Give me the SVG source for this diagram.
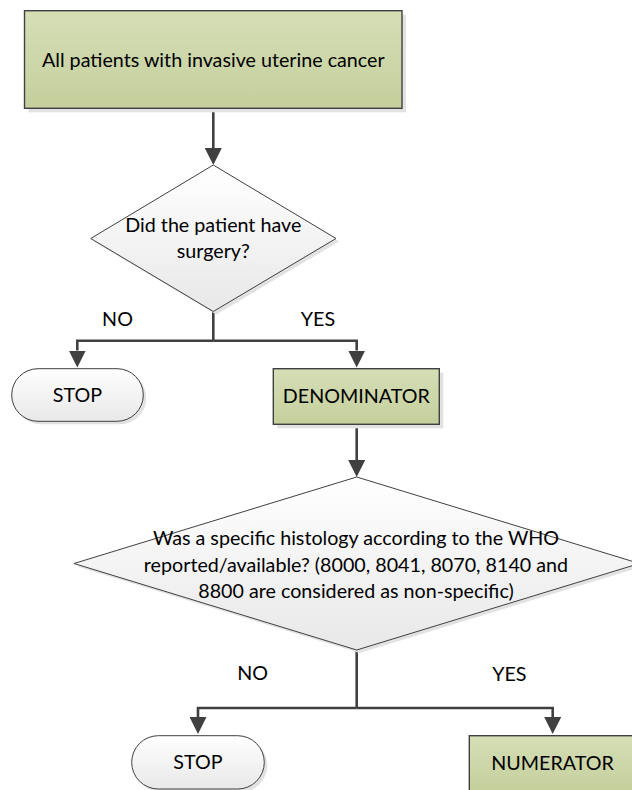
<svg xmlns="http://www.w3.org/2000/svg" width="632" height="790" viewBox="0 0 632 790">
  <style>
    .lbl { font-family: Lato, "Open Sans", sans-serif; font-size: 19.7px; fill: #000; text-anchor: middle; }
    .box { fill: url(#green); stroke: #404040; stroke-width: 1.4; }
    .dec { fill: url(#gray); stroke: #404040; stroke-width: 1; }
    .term { fill: url(#gray); stroke: #404040; stroke-width: 1; }
    .shadow { fill: #e2e2e2; stroke: none; }
    .conn { fill: none; stroke: #404040; stroke-width: 2.6; marker-end: url(#arrow); }
    .line { fill: none; stroke: #404040; stroke-width: 2.6; }
  </style>
  <defs>
    <linearGradient id="green" x1="0" y1="0" x2="0" y2="1">
      <stop offset="0" stop-color="#d6deb6"/>
      <stop offset="1" stop-color="#c4cf9c"/>
    </linearGradient>
    <linearGradient id="gray" x1="0" y1="0" x2="0" y2="1">
      <stop offset="0" stop-color="#ffffff"/>
      <stop offset="1" stop-color="#e8e8e8"/>
    </linearGradient>
    <marker id="arrow" markerUnits="userSpaceOnUse" markerWidth="17" markerHeight="17" refX="0" refY="8.5" orient="auto" viewBox="0 0 17 17">
      <path d="M0,0 L17,8.5 L0,17 Z" fill="#404040"/>
    </marker>
  </defs>

  <rect width="632" height="790" fill="#ffffff"/>

  <!-- connectors -->
  <g id="connectors">
    <path class="conn" d="M213.3,108.3 V148"/>
    <path class="line" d="M213.3,311.5 V340.7"/>
    <path class="conn" d="M213.3,340.7 H77.3 V350.5"/>
    <path class="conn" d="M213.3,340.7 H356.7 V350.5"/>
    <path class="conn" d="M356.7,424.3 V460"/>
    <path class="line" d="M356.7,650 V708"/>
    <path class="conn" d="M356.7,708 H198 V717"/>
    <path class="conn" d="M356.7,708 H552.7 V717"/>
  </g>

  <!-- start node -->
  <g id="start">
    <rect class="shadow" x="28.5" y="14.7" width="377.5" height="97.6"/>
    <rect class="box" x="24.5" y="10.7" width="377.5" height="97.6"/>
    <text class="lbl" x="213.3" y="66.7">All patients with invasive uterine cancer</text>
  </g>

  <!-- decision: surgery -->
  <g id="decision-surgery">
    <polygon class="shadow" points="216.3,168 339,241.5 216.3,314.5 93.7,241.5"/>
    <polygon class="dec" points="213.3,165 336,238.5 213.3,311.5 90.7,238.5"/>
    <text class="lbl" x="213.3" y="231.5">Did the patient have</text>
    <text class="lbl" x="213.3" y="258">surgery?</text>
  </g>

  <!-- branch labels -->
  <g id="labels-surgery">
    <text class="lbl" x="117.5" y="326">NO</text>
    <text class="lbl" x="318" y="326">YES</text>
  </g>

  <!-- stop (no surgery) -->
  <g id="stop-1">
    <rect class="shadow" x="14.7" y="371.7" width="131.6" height="52.6" rx="26.3"/>
    <rect class="term" x="11.7" y="368.7" width="131.6" height="52.6" rx="26.3"/>
    <text class="lbl" x="77.5" y="402">STOP</text>
  </g>

  <!-- denominator -->
  <g id="denominator">
    <rect class="shadow" x="277.3" y="372.7" width="166" height="55.6"/>
    <rect class="box" x="273.3" y="368.7" width="166" height="55.6"/>
    <text class="lbl" x="356.3" y="402.7">DENOMINATOR</text>
  </g>

  <!-- decision: histology -->
  <g id="decision-histology">
    <polygon class="shadow" points="359.7,480 642.4,566.5 359.7,653 77,566.5"/>
    <polygon class="dec" points="356.7,477 639.4,563.5 356.7,650 74,563.5"/>
    <text class="lbl" x="356" y="545">Was a specific histology according to the WHO</text>
    <text class="lbl" x="356" y="571.5">reported/available? (8000, 8041, 8070, 8140 and</text>
    <text class="lbl" x="356" y="598">8800 are considered as non-specific)</text>
  </g>

  <!-- branch labels -->
  <g id="labels-histology">
    <text class="lbl" x="252.7" y="680">NO</text>
    <text class="lbl" x="509.3" y="680.7">YES</text>
  </g>

  <!-- stop (no specific histology) -->
  <g id="stop-2">
    <rect class="shadow" x="134.7" y="738.7" width="132.6" height="53.3" rx="26.6"/>
    <rect class="term" x="131.7" y="735.7" width="132.6" height="53.3" rx="26.6"/>
    <text class="lbl" x="198" y="769">STOP</text>
  </g>

  <!-- numerator -->
  <g id="numerator">
    <rect class="shadow" x="473.3" y="739.7" width="166" height="55.6"/>
    <rect class="box" x="469.3" y="735.7" width="166" height="55.6"/>
    <text class="lbl" x="552.5" y="769.7">NUMERATOR</text>
  </g>
</svg>
